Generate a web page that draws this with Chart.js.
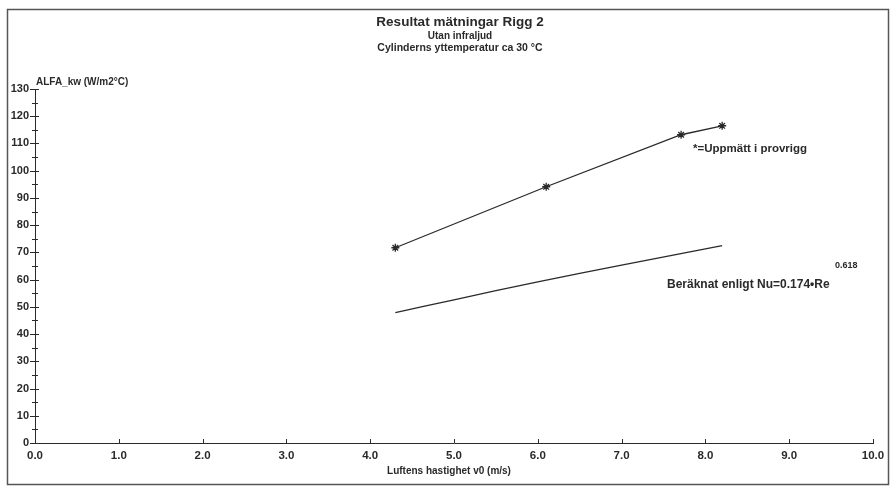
<!DOCTYPE html>
<html>
<head>
<meta charset="utf-8">
<script src="https://cdn.jsdelivr.net/npm/chart.js@4/dist/chart.umd.min.js"></script>
<style>
  html, body { margin: 0; padding: 0; background: #fff; }
  #wrap { width: 891px; height: 486px; position: relative; }
</style>
</head>
<body>
<div id="wrap"><canvas id="grafRigg"></canvas></div>
<script>
// mätdata
const hastighetUppmatt = [4.30, 6.10, 7.71, 8.20];
const alfaUppmatt = [71.7, 94.1, 113.2, 116.5];

const hastighetBeraknad = [4.30, 5.0, 6.0, 7.0, 8.20];
const alfaBeraknad = [47.9, 52.6, 59.2, 65.3, 72.5];

const yTicks = [0, 10, 20, 30, 40, 50, 60, 70, 80, 90, 100, 110, 120, 130];
const xTicks = [0, 1, 2, 3, 4, 5, 6, 7, 8, 9, 10];

const ink = '#2a2a2a';
const fontBold = (size) => `bold ${size}px "Liberation Sans", Arial, sans-serif`;

const ritaExtra = {
  id: 'ritaExtra',
  afterDraw(chart) {
    const c = chart.ctx;
    const xs = chart.scales.x, ys = chart.scales.y;
    c.save();
    // ram runt sidan
    c.strokeStyle = '#555';
    c.lineWidth = 1.5;
    c.strokeRect(7.5, 9.5, 881, 475);

    // tickmarkeringar
    c.strokeStyle = ink;
    c.lineWidth = 1;
    const x0 = xs.getPixelForValue(0);
    for (let v = 0; v <= 130; v += 5) {
      const py = Math.round(ys.getPixelForValue(v)) + 0.5;
      const major = v % 10 === 0;
      c.beginPath();
      c.moveTo(x0 - (major ? 5 : 3), py);
      c.lineTo(x0 + (major ? 4 : 3), py);
      c.stroke();
    }
    const y0 = ys.getPixelForValue(0);
    xTicks.forEach(v => {
      const px = Math.round(xs.getPixelForValue(v)) + 0.5;
      c.beginPath();
      c.moveTo(px, y0);
      c.lineTo(px, y0 - 4);
      c.stroke();
    });

    c.fillStyle = ink;
    c.textBaseline = 'middle';
    // rubriker
    c.textAlign = 'center';
    c.font = fontBold(13.5);
    c.fillText('Resultat mätningar Rigg 2', 460, 22);
    c.font = fontBold(10);
    c.fillText('Utan infraljud', 460, 36);
    c.font = fontBold(10.5);
    c.fillText('Cylinderns yttemperatur ca 30 °C', 460, 48);

    // axeltitlar
    c.font = fontBold(10);
    c.fillText('Luftens hastighet v0 (m/s)', 449, 471);
    c.textAlign = 'left';
    c.fillText('ALFA_kw (W/m2°C)', 36, 82);

    // förklaringar
    c.font = fontBold(11.5);
    c.fillText('*=Uppmätt i provrigg', 693, 149);
    c.font = fontBold(12);
    c.fillText('Beräknat enligt Nu=0.174•Re', 667, 285);
    c.font = fontBold(9);
    c.fillText('0.618', 835, 266);
    c.restore();
  }
};

new Chart(document.getElementById('grafRigg'), {
  type: 'scatter',
  data: {
    datasets: [
      {
        label: 'Uppmätt i provrigg',
        data: hastighetUppmatt.map((x, i) => ({ x, y: alfaUppmatt[i] })),
        showLine: true,
        borderColor: ink,
        borderWidth: 1.3,
        pointStyle: 'star',
        pointRadius: 4,
        pointBorderColor: ink,
        pointBorderWidth: 1.3,
        tension: 0
      },
      {
        label: 'Beräknat',
        data: hastighetBeraknad.map((x, i) => ({ x, y: alfaBeraknad[i] })),
        showLine: true,
        borderColor: ink,
        borderWidth: 1.3,
        pointRadius: 0,
        tension: 0.3
      }
    ]
  },
  options: {
    responsive: true,
    maintainAspectRatio: false,
    animation: false,
    layout: { padding: { top: 89, right: 18, left: 0, bottom: 0 } },
    plugins: {
      legend: { display: false },
      tooltip: { enabled: false }
    },
    scales: {
      x: {
        type: 'linear',
        min: 0,
        max: 10,
        afterBuildTicks: (s) => { s.ticks = xTicks.map(v => ({ value: v })); },
        afterFit: (s) => { s.height = 43; },
        grid: { display: false, tickLength: 0 },
        border: { display: true, color: ink, width: 1 },
        ticks: {
          color: ink,
          padding: 6,
          maxRotation: 0,
          font: { family: '"Liberation Sans", Arial', size: 11.5, weight: 'bold' },
          callback: (v) => Number(v).toFixed(1)
        }
      },
      y: {
        type: 'linear',
        min: 0,
        max: 130,
        afterBuildTicks: (s) => { s.ticks = yTicks.map(v => ({ value: v })); },
        afterFit: (s) => { s.width = 35; },
        grid: { display: false, tickLength: 0 },
        border: { display: true, color: ink, width: 1 },
        ticks: {
          color: ink,
          padding: 6,
          font: { family: '"Liberation Sans", Arial', size: 11, weight: 'bold' }
        }
      }
    }
  },
  plugins: [ritaExtra]
});
</script>
</body>
</html>
